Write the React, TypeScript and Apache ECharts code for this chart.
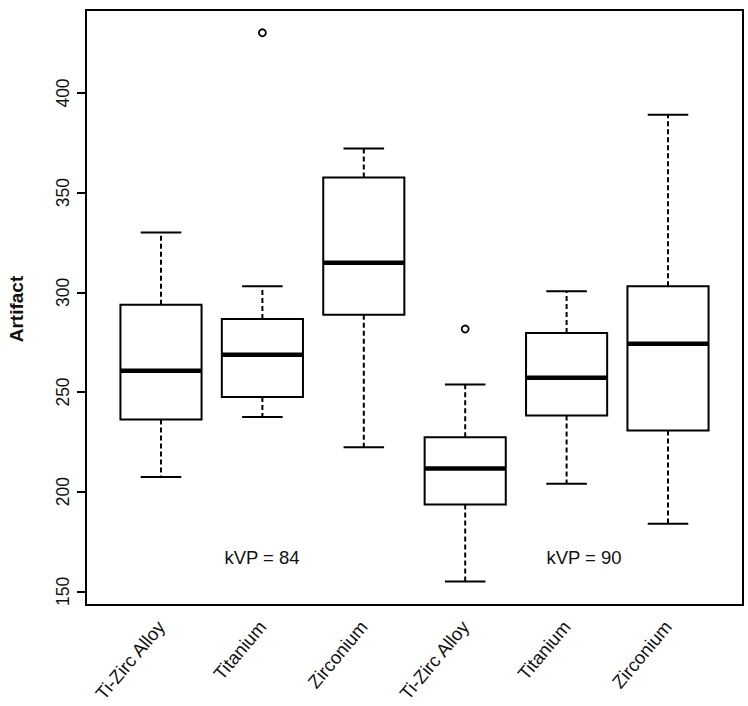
import React, { useEffect, useRef } from 'react';
import * as echarts from 'echarts';

// ---- data ----
const categories = ['Ti-Zirc Alloy', 'Titanium', 'Zirconium', 'Ti-Zirc Alloy', 'Titanium', 'Zirconium'];
const whiskerLow = [207.3, 237.5, 222.3, 154.9, 204.0, 183.9];
const quartile1 = [236.2, 247.5, 288.8, 193.6, 238.2, 230.7];
const medians = [260.7, 268.7, 314.8, 211.6, 257.1, 274.2];
const quartile3 = [293.8, 286.6, 357.6, 227.3, 279.6, 303.0];
const whiskerHigh = [330.0, 303.0, 372.1, 253.7, 300.6, 389.1];
const outlierCategory = [1, 3];
const outlierValue = [430.2, 281.6];
const yTickMin = 150;
const yTickMax = 400;
const yTickStep = 50;
const yAxisTitle = 'Artifact';
const annotationTexts = ['kVP = 84', 'kVP = 90'];

const FONT = '"Liberation Sans", Arial, Helvetica, sans-serif';

export default function App() {
  const ref = useRef<HTMLDivElement>(null);

  useEffect(() => {
    if (!ref.current) return;
    const chart = echarts.init(ref.current, undefined, { renderer: 'svg' });

    const boxData = categories.map((_, i) => [
      i,
      whiskerLow[i],
      quartile1[i],
      medians[i],
      quartile3[i],
      whiskerHigh[i],
    ]);
    const outlierData = outlierCategory.map((c, i) => [c, outlierValue[i]]);

    const renderBox = (params: any, api: any) => {
      const idx = api.value(0);
      const lo = api.coord([idx, api.value(1)]);
      const q1 = api.coord([idx, api.value(2)]);
      const med = api.coord([idx, api.value(3)]);
      const q3 = api.coord([idx, api.value(4)]);
      const hi = api.coord([idx, api.value(5)]);
      const unit = api.size([1, 0])[0];
      const bw = unit * 0.8;
      const cw = bw * 0.5;
      const x = med[0];
      const dashStyle = { stroke: '#000', lineWidth: 2, lineDash: [5, 3], fill: 'none' };
      const solid = { stroke: '#000', lineWidth: 2, fill: 'none' };
      return {
        type: 'group',
        children: [
          { type: 'line', shape: { x1: x, y1: q3[1], x2: x, y2: hi[1] }, style: dashStyle },
          { type: 'line', shape: { x1: x - cw / 2, y1: hi[1], x2: x + cw / 2, y2: hi[1] }, style: solid },
          { type: 'line', shape: { x1: x, y1: q1[1], x2: x, y2: lo[1] }, style: dashStyle },
          { type: 'line', shape: { x1: x - cw / 2, y1: lo[1], x2: x + cw / 2, y2: lo[1] }, style: solid },
          {
            type: 'rect',
            shape: { x: x - bw / 2, y: q3[1], width: bw, height: q1[1] - q3[1] },
            style: { fill: '#fff', stroke: '#000', lineWidth: 2 },
          },
          { type: 'line', shape: { x1: x - bw / 2, y1: med[1], x2: x + bw / 2, y2: med[1] }, style: { stroke: '#000', lineWidth: 4.5 } },
        ],
      };
    };

    chart.setOption({
      animation: false,
      backgroundColor: '#fff',
      grid: { left: 110.3, right: 29.3, top: 93, bottom: 114, containLabel: false },
      xAxis: {
        type: 'category',
        data: categories,
        offset: 13,
        axisLine: { show: false },
        axisTick: { show: false },
        splitLine: { show: false },
        axisLabel: {
          interval: 0,
          rotate: 50,
          margin: 19,
          fontSize: 18.5,
          color: '#111',
          fontFamily: FONT,
        },
      },
      yAxis: {
        type: 'value',
        min: yTickMin,
        max: yTickMax,
        interval: yTickStep,
        offset: 24.3,
        axisLine: { show: true, lineStyle: { color: '#000', width: 2 } },
        axisTick: { show: true, length: 9, lineStyle: { color: '#000', width: 2 } },
        splitLine: { show: false },
        axisLabel: {
          rotate: 90,
          margin: 14,
          fontSize: 17.5,
          color: '#111',
          fontFamily: FONT,
        },
      },
      graphic: [
        {
          type: 'rect',
          shape: { x: 86, y: 10, width: 657, height: 595 },
          style: { fill: 'none', stroke: '#000', lineWidth: 2 },
          z: 100,
        },
        {
          type: 'text',
          x: 16,
          y: 309,
          rotation: Math.PI / 2,
          style: {
            text: yAxisTitle,
            fontSize: 19,
            fontWeight: 'bold',
            fill: '#111',
            fontFamily: FONT,
            textAlign: 'center',
            textVerticalAlign: 'middle',
          },
        },
        {
          type: 'text',
          x: 262,
          y: 557,
          style: { text: annotationTexts[0], fontSize: 18.5, fill: '#111', fontFamily: FONT, textAlign: 'center', textVerticalAlign: 'middle' },
        },
        {
          type: 'text',
          x: 584,
          y: 557,
          style: { text: annotationTexts[1], fontSize: 18.5, fill: '#111', fontFamily: FONT, textAlign: 'center', textVerticalAlign: 'middle' },
        },
      ],
      series: [
        {
          type: 'custom',
          renderItem: renderBox,
          data: boxData,
          encode: { x: 0, y: [1, 2, 3, 4, 5] },
          clip: false,
          z: 3,
        },
        {
          type: 'scatter',
          data: outlierData,
          symbol: 'circle',
          symbolSize: 7,
          clip: false,
          itemStyle: { color: '#fff', borderColor: '#000', borderWidth: 1.8, opacity: 1 },
          z: 4,
        },
      ],
    });

    return () => chart.dispose();
  }, []);

  return (
    <div
      ref={ref}
      style={{ position: 'fixed', left: 0, top: 0, width: 748, height: 706, background: '#fff' }}
    />
  );
}
